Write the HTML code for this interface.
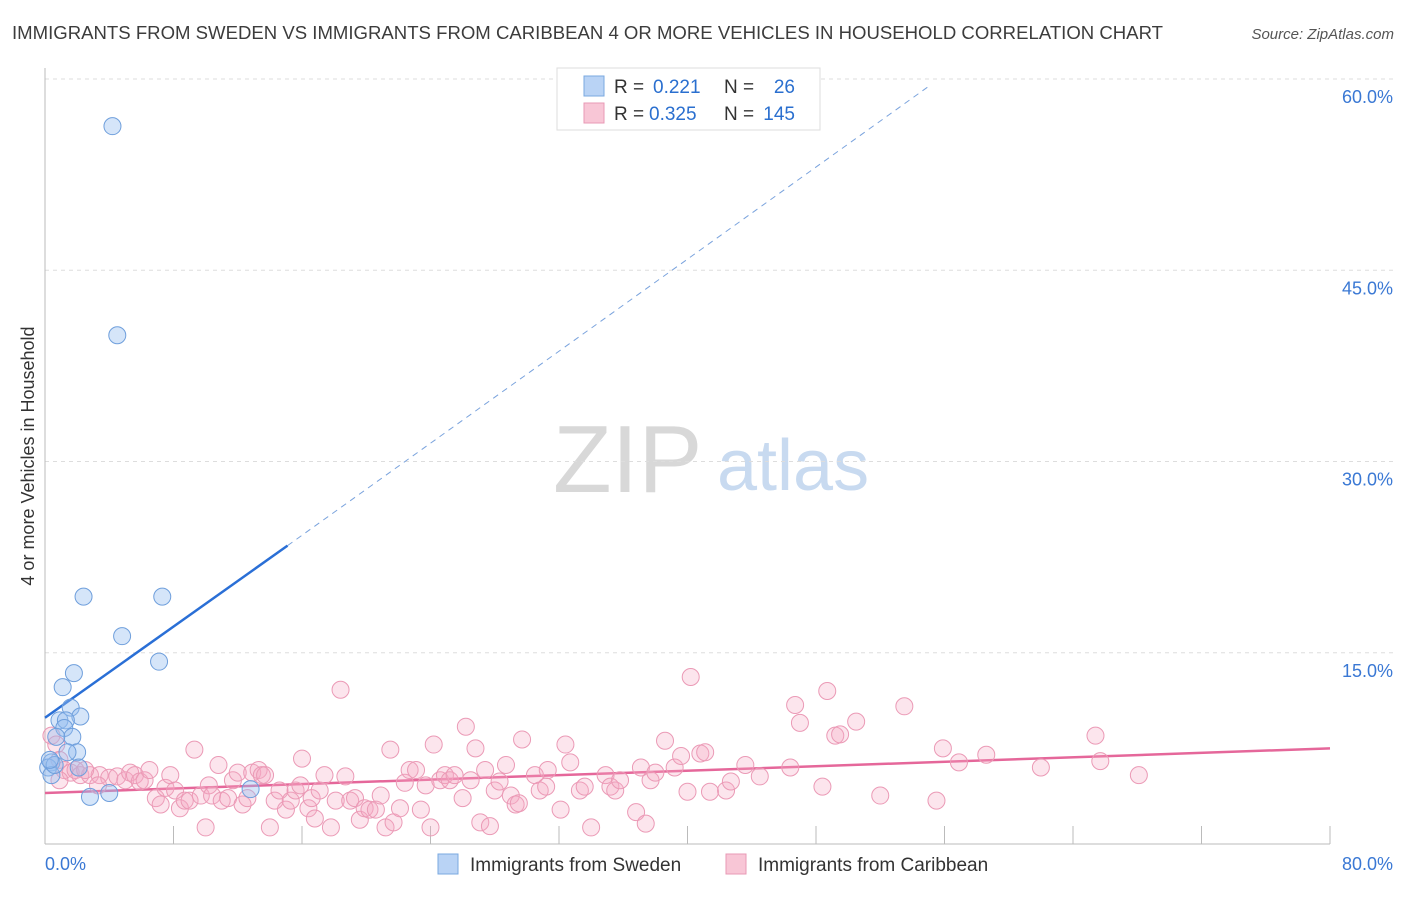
<!DOCTYPE html>
<html><head><meta charset="utf-8"><style>
body{margin:0;background:#fff;font-family:"Liberation Sans",sans-serif;}
svg text{font-family:"Liberation Sans",sans-serif;}
</style></head><body>
<svg id="chart" width="1406" height="892" xmlns="http://www.w3.org/2000/svg">
<text x="12" y="39" font-size="18" fill="#3c3c3c" textLength="1151" lengthAdjust="spacingAndGlyphs">IMMIGRANTS FROM SWEDEN VS IMMIGRANTS FROM CARIBBEAN 4 OR MORE VEHICLES IN HOUSEHOLD CORRELATION CHART</text>
<text x="1394" y="39" font-size="15" fill="#555" text-anchor="end" font-style="italic">Source: ZipAtlas.com</text>
<g>
<text x="553" y="492" font-size="96" fill="#d8d8d8" font-family="Liberation Serif, serif">ZIP</text>
<text x="717" y="490" font-size="72" fill="#c8daf0">atlas</text>
</g>
<g id="grid"></g>
<g id="axes"></g>
<g id="trend"></g>
<g id="pts"></g>
<text transform="translate(34,456) rotate(-90)" font-size="18" fill="#333" text-anchor="middle">4 or more Vehicles in Household</text>
<g>
<rect x="557" y="68" width="263" height="62" fill="#fff" stroke="#ddd"/>
<rect x="584" y="76" width="20" height="20" fill="#b9d3f5" stroke="#7aa8e0"/>
<rect x="584" y="103" width="20" height="20" fill="#f8c6d6" stroke="#e899b5"/>
<text x="614" y="93" font-size="19" fill="#333">R =</text>
<text x="653" y="93" font-size="19" fill="#2a6fcf">0.221</text>
<text x="724" y="93" font-size="19" fill="#333">N =</text>
<text x="795" y="93" font-size="19" fill="#2a6fcf" text-anchor="end">26</text>
<text x="614" y="120" font-size="19" fill="#333">R =</text>
<text x="649" y="120" font-size="19" fill="#2a6fcf">0.325</text>
<text x="724" y="120" font-size="19" fill="#333">N =</text>
<text x="795" y="120" font-size="19" fill="#2a6fcf" text-anchor="end">145</text>
</g>
<g>
<rect x="438" y="854" width="20" height="20" fill="#b9d3f5" stroke="#7aa8e0"/>
<text x="470" y="871" font-size="19" fill="#333">Immigrants from Sweden</text>
<rect x="726" y="854" width="20" height="20" fill="#f8c6d6" stroke="#e899b5"/>
<text x="758" y="871" font-size="19" fill="#333">Immigrants from Caribbean</text>
</g>
</svg>
<script>
const yTicks=[15,30,45,60];
const yTickLabels=["15.0%","30.0%","45.0%","60.0%"];
const xEndLabels=["0.0%","80.0%"];
const swedenX=[4.2,4.5,2.4,7.3,4.8,7.1,1.8,1.1,1.6,2.2,0.9,1.3,1.2,1.7,0.7,2.0,1.4,0.4,0.2,2.1,0.4,2.8,4.0,12.8,0.6,0.3];
const swedenY=[56.3,39.9,19.4,19.4,16.3,14.3,13.4,12.3,10.7,10.0,9.7,9.7,9.1,8.4,8.4,7.2,7.2,6.4,6.0,6.0,5.4,3.7,4.0,4.3,6.2,6.6];
const caribX=[0.4,0.7,0.9,1.2,1.6,1.9,2.2,2.8,3.4,4.0,4.5,5.0,5.3,5.6,5.9,6.2,6.5,6.9,7.2,7.5,7.8,8.1,8.4,8.7,9.0,9.3,9.7,10.0,10.2,10.4,10.8,11.0,11.4,11.7,12.0,12.3,12.6,12.9,13.3,13.5,13.7,14.0,14.3,14.6,15.0,15.3,15.6,15.9,16.0,16.4,16.6,16.8,17.1,17.4,17.8,18.1,18.4,18.7,19.0,19.3,19.6,19.9,20.2,20.6,20.9,21.2,21.5,21.7,22.1,22.4,22.7,23.1,23.4,23.7,24.0,24.2,24.6,24.9,25.2,25.5,26.0,26.2,26.5,26.8,27.1,27.4,27.7,28.0,28.3,28.7,29.0,29.3,29.5,29.7,30.5,30.8,31.2,31.3,32.1,32.4,32.7,33.3,33.6,34.0,34.9,35.2,35.5,35.8,36.8,37.1,37.4,37.7,38.0,38.6,39.2,39.6,40.0,40.2,40.8,41.1,41.4,42.4,42.7,43.6,44.5,46.4,46.7,47.0,48.4,48.7,49.2,49.5,50.5,52.0,53.5,55.5,55.9,56.9,58.6,62.0,65.4,65.7,68.1,0.9,2.5,3.3];
const caribY=[8.5,7.8,6.6,5.8,5.6,5.8,5.4,5.4,5.4,5.2,5.3,5.0,5.6,5.4,4.9,5.0,5.8,3.6,3.1,4.4,5.4,4.2,2.8,3.4,3.4,7.4,3.8,1.3,4.6,3.8,6.2,3.4,3.6,5.0,5.6,3.1,3.6,5.6,5.8,5.4,5.4,1.3,3.4,4.2,2.7,3.4,4.2,4.6,6.7,2.8,3.6,2.0,4.2,5.4,1.3,3.4,12.1,5.3,3.4,3.6,1.9,2.8,2.7,2.7,3.8,1.3,7.4,1.7,2.8,4.8,5.8,5.8,2.7,4.6,1.3,7.8,5.0,5.4,5.0,5.4,3.6,9.2,5.0,7.5,1.7,5.8,1.4,4.2,4.9,6.2,3.8,3.1,3.2,8.2,5.4,4.2,4.5,5.8,2.7,7.8,6.4,4.2,4.5,1.3,5.4,4.5,4.2,5.0,2.5,6.0,1.6,5.0,5.6,8.1,6.0,6.9,4.1,13.1,7.1,7.2,4.1,4.2,4.9,6.2,5.3,6.0,10.9,9.5,4.5,12.0,8.5,8.6,9.6,3.8,10.8,3.4,7.5,6.4,7.0,6.0,8.5,6.5,5.4,5.0,5.8,4.6];
const swedenTrend=[[0,9.9],[15.1,23.4],[55.1,59.5]];
const caribTrend=[[0,4.0],[80,7.5]];

const NS="http://www.w3.org/2000/svg";
const X0=45,X1=1330,Y0=844,Y60=79;
function xs(v){return X0+v*(X1-X0)/80;}
function ys(v){return Y0-v*(Y0-Y60)/60;}
function mk(tag,attrs,parent){const e=document.createElementNS(NS,tag);for(const k in attrs)e.setAttribute(k,attrs[k]);parent.appendChild(e);return e;}
const grid=document.getElementById('grid'),axes=document.getElementById('axes'),trend=document.getElementById('trend'),pts=document.getElementById('pts');
yTicks.forEach((t,i)=>{
  const l=mk('line',{x1:X0,x2:1394,y1:ys(t),y2:ys(t),stroke:'#ddd','stroke-dasharray':'4,4'},grid);
  
  
  const tx=mk('text',{x:1393,y:ys(t)+24,'font-size':18,fill:'#3a78d4','text-anchor':'end'},axes);
  tx.textContent=yTickLabels[i];
  
  
});
let a=mk('line',{x1:X0,x2:X0,y1:68,y2:Y0,stroke:'#bbb'},axes);


a=mk('line',{x1:X0,x2:X1,y1:Y0,y2:Y0,stroke:'#bbb'},axes);


for(let v=8;v<=80;v+=8){
  const t=mk('line',{x1:xs(v),x2:xs(v),y1:826,y2:Y0,stroke:'#bbb'},axes);
  
  
}
let t0=mk('text',{x:45,y:870,'font-size':18,fill:'#3a78d4'},axes);t0.textContent=xEndLabels[0];


let t1=mk('text',{x:1393,y:870,'font-size':18,fill:'#3a78d4','text-anchor':'end'},axes);t1.textContent=xEndLabels[1];



caribX.forEach((x,i)=>{
  const c=mk('circle',{cx:xs(x),cy:ys(caribY[i]),r:8.5,fill:'rgba(244,170,196,0.3)',stroke:'#eb9ab6','stroke-width':1},pts);
  
  
});
swedenX.forEach((x,i)=>{
  const c=mk('circle',{cx:xs(x),cy:ys(swedenY[i]),r:8.5,fill:'rgba(150,190,240,0.4)',stroke:'#6f9fdc','stroke-width':1},pts);
  
  
});
let l=mk('line',{x1:xs(caribTrend[0][0]),y1:ys(caribTrend[0][1]),x2:xs(caribTrend[1][0]),y2:ys(caribTrend[1][1]),stroke:'#e5679a','stroke-width':2.5},trend);


l=mk('line',{x1:xs(swedenTrend[0][0]),y1:ys(swedenTrend[0][1]),x2:xs(swedenTrend[1][0]),y2:ys(swedenTrend[1][1]),stroke:'#2a6fd6','stroke-width':2.5},trend);


l=mk('line',{x1:xs(swedenTrend[1][0]),y1:ys(swedenTrend[1][1]),x2:xs(swedenTrend[2][0]),y2:ys(swedenTrend[2][1]),stroke:'#7aa3dd','stroke-width':1,'stroke-dasharray':'6,5'},trend);


</script>
</body></html>
